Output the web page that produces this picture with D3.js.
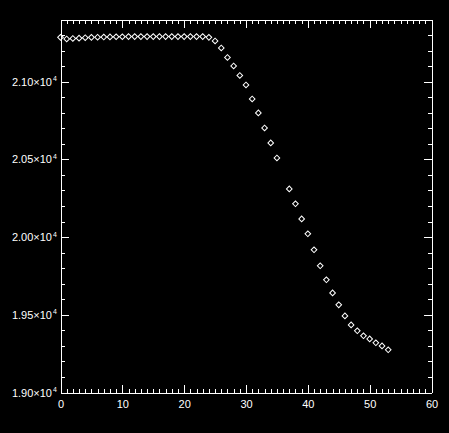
<!DOCTYPE html>
<html>
<head>
<meta charset="utf-8">
<script src="https://cdn.jsdelivr.net/npm/d3@7"></script>
<style>
  html, body { margin: 0; padding: 0; background: #000; }
  svg { display: block; color: #fff; }
  .axis path, .axis line { stroke: #fff; stroke-width: 1; shape-rendering: crispEdges; }
  .axis text { fill: #fff; font-family: "Liberation Sans", Arial, sans-serif; font-size: 11px; }
</style>
</head>
<body>
<svg width="449" height="433"></svg>
<script>
// x positions (no point at 36)
const xValues = [0, 1, 2, 3, 4, 5, 6, 7, 8, 9, 10, 11, 12, 13, 14, 15, 16, 17, 18, 19, 20, 21, 22, 23,
                 24, 25, 26, 27, 28, 29, 30, 31, 32, 33, 34, 35, 37, 38, 39, 40, 41, 42, 43, 44, 45,
                 46, 47, 48, 49, 50, 51, 52, 53];
const yValues = [21285, 21275, 21278, 21280, 21283, 21285, 21286, 21287, 21288, 21289, 21289, 21290,
                 21290, 21290, 21290, 21290, 21290, 21290, 21290, 21290, 21290, 21290, 21290, 21290,
                 21285, 21262, 21217, 21156, 21101, 21040, 20979, 20889, 20799, 20702, 20606, 20509,
                 20310, 20214, 20117, 20021, 19918, 19815, 19725, 19641, 19564, 19493, 19435, 19397,
                 19365, 19345, 19320, 19300, 19275];
const xTicks = [0, 10, 20, 30, 40, 50, 60];
const yTicks = [19000, 19500, 20000, 20500, 21000];
const yTickLabels = ["1.90", "1.95", "2.00", "2.05", "2.10"];

const svg = d3.select("svg");
const pLeft = 60.5, pRight = 431.5, pTop = 19.5, pBottom = 392.5;

const x = d3.scaleLinear().domain([0, 60]).range([pLeft, pRight]);
const y = d3.scaleLinear().domain([19000, 21400]).range([pBottom, pTop]);

const xMinor = d3.range(0, 61, 1).filter(v => v % 10 !== 0);
const yMinor = d3.range(19000, 21401, 100).filter(v => v % 500 !== 0);

function addAxis(axisFn, scale, major, minor, pos, labels) {
  const g = svg.append("g").attr("class", "axis").attr("transform", pos);
  g.call(axisFn(scale).tickValues(major).tickSizeInner(-8).tickSizeOuter(0)
    .tickPadding(8).tickFormat(labels ? d3.format("d") : ""));
  const gm = svg.append("g").attr("class", "axis").attr("transform", pos);
  gm.call(axisFn(scale).tickValues(minor).tickSizeInner(-4).tickSizeOuter(0).tickFormat(""));
  gm.select(".domain").remove();
  return g;
}

addAxis(d3.axisBottom, x, xTicks, xMinor, `translate(0,${pBottom})`, true);
addAxis(d3.axisTop, x, xTicks, xMinor, `translate(0,${pTop})`, false);
addAxis(d3.axisLeft, y, yTicks, yMinor, `translate(${pLeft},0)`, false);
addAxis(d3.axisRight, y, yTicks, yMinor, `translate(${pRight},0)`, false);

// y labels with superscript exponent
const yl = svg.append("g").attr("class", "axis");
yTicks.forEach((v, i) => {
  yl.append("text")
    .attr("x", 52)
    .attr("y", y(v) + 4)
    .attr("text-anchor", "end")
    .text(yTickLabels[i] + "\u00d710");
  yl.append("text")
    .attr("x", 53)
    .attr("y", y(v) - 0.5)
    .style("font-size", "7px")
    .text("4");
});

// diamond markers
svg.append("g").selectAll("path")
  .data(xValues.map((d, i) => [d, yValues[i]]))
  .join("path")
  .attr("d", d3.symbol(d3.symbolSquare, 16))
  .attr("transform", d => `translate(${x(d[0])},${y(d[1])}) rotate(45)`)
  .attr("fill", "none")
  .attr("stroke", "#fff")
  .attr("stroke-width", 1);
</script>
</body>
</html>
